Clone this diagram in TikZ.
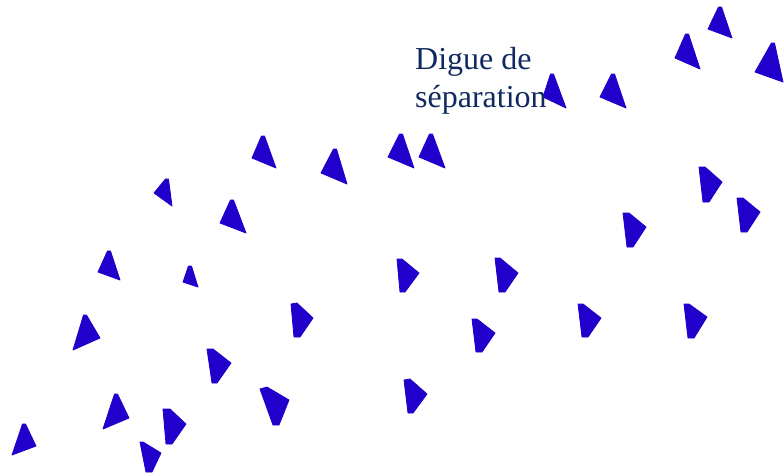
\documentclass[tikz,border=0pt]{standalone}
\usepackage{fontspec}
\setmainfont{Liberation Serif}
\usepackage{tikz}
\usepackage{xcolor}
\definecolor{blocblue}{HTML}{2100CC}
\definecolor{labelnavy}{HTML}{10295E}
\tikzset{
  bloc/.style={fill=blocblue, draw=blocblue, line width=0.8pt, line join=round},
  digueLabel/.style={font=\fontsize{32}{38}\selectfont, text=labelnavy, align=left, inner sep=0pt, anchor=north west}
}

\begin{document}
\begin{tikzpicture}[x=1pt, y=-1pt]
  \useasboundingbox (0,0) rectangle (784,475);
  % upright blocks: top / right foot / left foot
  \foreach \a/\b/\c in {
      {720,7}/{732,38}/{708,29}, {687,34}/{700,69}/{675,58}, {773,43}/{783,82}/{755,72},
      {552,74}/{566,108}/{543,97}, {613,74}/{626,108}/{600,97},
      {401,134}/{414,168}/{388,157}, {431,134}/{445,168}/{419,157},
      {263,136}/{276,168}/{252,158}, {335,149}/{347,184}/{321,173},
      {167,179}/{172,206}/{154,193}, {232,200}/{246,233}/{220,223},
      {109,251}/{120,280}/{98,272}, {190,266}/{198,287}/{183,282},
      {85,315}/{100,338}/{73,350}, {116,394}/{129,418}/{103,429},
      {24,424}/{36,446}/{12,455}}
    \fill[bloc] ([xshift=-1.5pt]\a) -- ([xshift=1.5pt]\a) -- (\b) -- (\c) -- cycle;
  % blocks pointing right
  \foreach \a/\b/\c/\d/\e in {
      {163,409}/{170,409}/{186,424}/{172,444}/{166,444},
      {140,442}/{143,442}/{161,453}/{152,472}/{146,472},
      {291,304}/{297,303}/{313,318}/{300,337}/{294,337},
      {207,349}/{213,349}/{231,363}/{217,383}/{212,383},
      {260,389}/{267,387}/{289,400}/{279,425}/{273,425},
      {404,380}/{410,379}/{427,394}/{413,413}/{408,413},
      {397,259}/{402,259}/{419,273}/{405,292}/{400,292},
      {495,258}/{500,258}/{518,273}/{505,292}/{499,292},
      {472,319}/{477,319}/{495,333}/{482,352}/{476,352},
      {578,304}/{583,304}/{601,318}/{588,337}/{582,337},
      {699,167}/{705,167}/{722,182}/{709,202}/{703,202},
      {737,198}/{743,198}/{760,212}/{747,232}/{741,232},
      {623,213}/{629,213}/{646,227}/{633,247}/{627,247},
      {684,304}/{689,304}/{707,317}/{694,338}/{688,338}}
    \fill[bloc] (\a) -- (\b) -- (\c) -- (\d) -- (\e) -- cycle;
  \node[digueLabel] (digue) at (415,47) {Digue de\\séparation};
\end{tikzpicture}
\end{document}
